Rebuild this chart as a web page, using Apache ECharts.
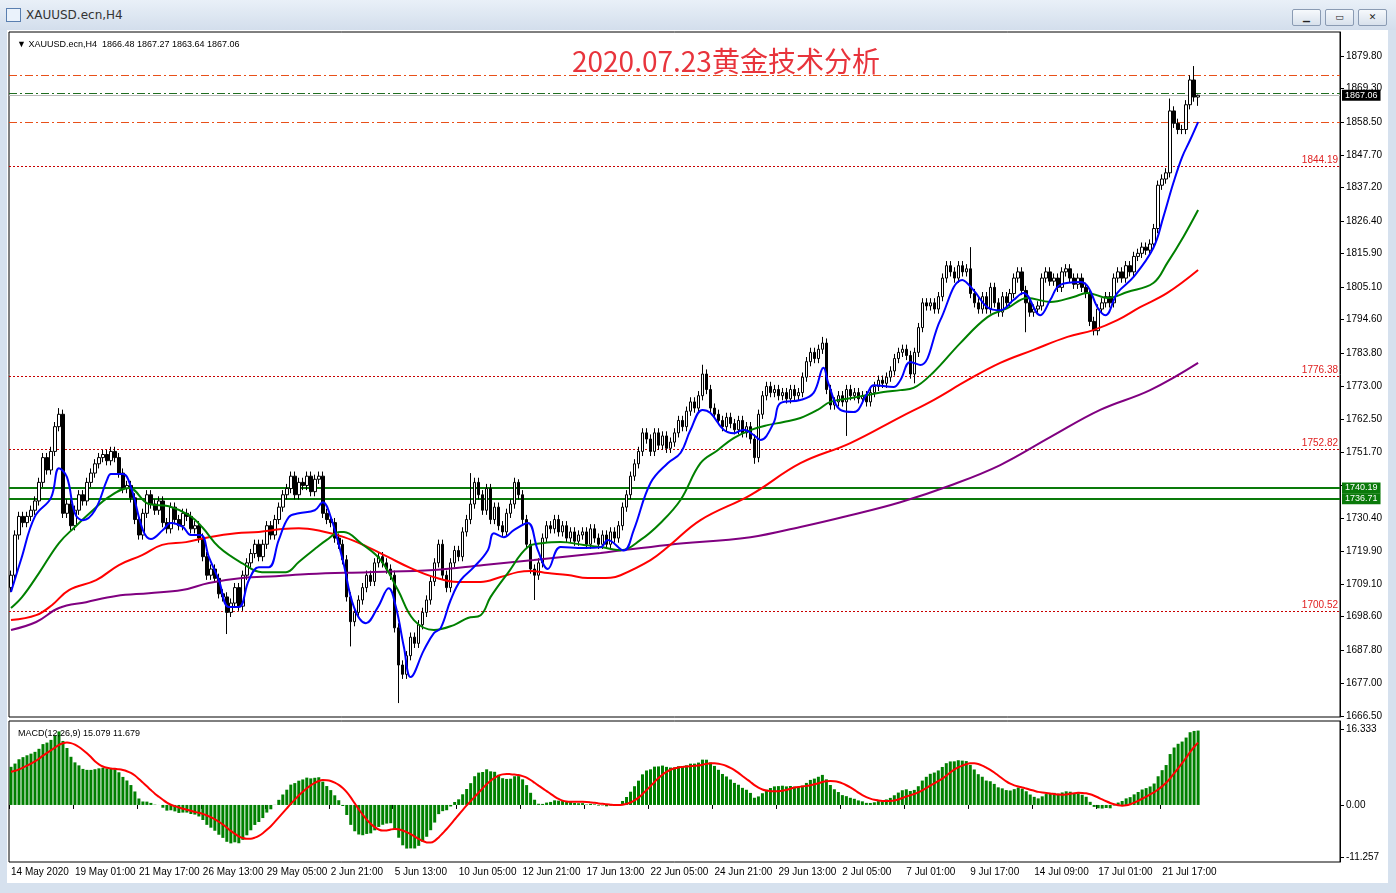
<!DOCTYPE html>
<html><head><meta charset="utf-8">
<script src="https://cdn.jsdelivr.net/npm/echarts@6/dist/echarts.min.js"></script>
<style>
html,body{margin:0;padding:0;width:1396px;height:893px;overflow:hidden;background:#d6e1ee;font-family:"DejaVu Sans",sans-serif}
#bar{position:absolute;left:0;top:0;width:1396px;height:30px;background:linear-gradient(#e9f0f8,#d3deec)}
#bar .t{position:absolute;left:26px;top:8px;font-size:12px;color:#333}
#bar .ic{position:absolute;left:6px;top:8px;width:13px;height:12px;border:1px solid #5a7fb0;background:#eaf2fb}
.btn{position:absolute;top:9px;width:27px;height:15px;border:1px solid #8a9bb3;border-radius:2px;background:linear-gradient(#f6f9fc,#d8e1ec);font-size:9px;line-height:15px;text-align:center;color:#222}
#white{position:absolute;left:7px;top:30px;width:1381px;height:853px;background:#fff}
#chart{position:absolute;left:0;top:0;width:1396px;height:893px}
</style></head><body>
<div id="bar"><div class="ic"></div><div class="t">XAUUSD.ecn,H4</div>
<div class="btn" style="left:1292px">▁</div><div class="btn" style="left:1325px">▭</div><div class="btn" style="left:1358px">✕</div></div>
<div id="white"></div>
<div id="chart"></div>
<script>
// ---- data ----
const closes = [
1712,1725,1731,1729,1731, 1733,1736,1742,1750,1746, 1752,1760,1764,
1732,1735,1728,1733,1738,1736, 1742,1745,1748,1750,1751,1749,1752,1750,
1745,1740,1741,1737, 1730,1725,1732,1738,1735, 1733,1736,1729,1727,1734,
1730,1728,1732,1731,1727,1728, 1724,1718,1712,1714,1711,1706, 1705,1700,1703,1708,1702,
1712,1716,1719,1722,1718, 1722,1728,1725,1730,1734,1738, 1740,1744,1738,1742,1741,1744,1739,1743,1744,
1732, 1730,1729,1724,1722,1717, 1705,1697,1700, 1704,1708,1712,1710,1716,1718, 1716,1714,1712,
1695,1683,1680, 1686,1692,1690,1696,1700, 1704,1710,1716,1722,1712, 1708,1716,1720,1718,1726,
1730,1735,1742, 1738,1733,1740,1730,1734, 1728,1726,1732,1735, 1742,1738,1730, 1722,1714,1712,
1716,1724,1728,1727, 1730,1726,1728,1724,1726,1723,1725,1726,1722,1727,1724,1722,
1725,1722,1726,1724,1728,1734, 1738,1744,1748,1752,1758, 1756,1752,1758,1754,1757,
1753,1755,1758,1762,1760, 1765,1768,1766,1770,1777, 1772,1766,1764,
1762,1760,1763,1761,1759,1762,1758, 1760,1756,1750, 1764,1770,1773,1771,
1772,1770,1771,1769,1772,1770,1771, 1776,1781,1784,1782,1785,1787, 1772,1767,1768,
1770,1768,1772,1770,1771,1769,1770,1768, 1771,1773,1775,1774,1776,1778,1782,1784,
1785,1783,1777, 1784,1792,1800,1799,1800, 1798,1802,1808,1812, 1810,1808,1812,1810,1811,
1803,1800,1798,1802, 1798,1805,1800,1797,1802,1800,1803, 1808,1810,1804, 1800,1797,1798,1799,
1808,1810,1807, 1808,1805,1810,1811,1808,1806,1808,1805, 1803,1794,1791,
1798,1800,1802,1800, 1808,1810,1808,1812,1810, 1815,1816,1818,1817,1819,
1824,1838,1840, 1842, 1862, 1858,1856,1856, 1864,1872,1866.48,1867.06];
const firstOpen = 1708;
const hiSpikes = [[12,1766],[115,1745],[127,1743],[173,1780],[203,1789],[240,1818],[290,1866],[296,1876.5],[297,1867.27]];
const loSpikes = [[54,1693],[85,1689],[97,1670.7],[131,1704],[186,1748],[209,1757],[226,1774],[254,1790.5],[297,1863.64]];
const wick = 1.5;
const blueMA = [[0,1706.6],[2.5,1717],[6,1731],[10,1737],[12,1746.6],[14,1743.7],[16,1732],[18,1729.8],[21,1733],[24,1742.7],[25,1744.7],[28,1744.7],[30,1740.5],[33,1726.6],[35,1723.7],[38,1726.6],[40,1728.9],[43,1727.6],[45,1725],[47.5,1725],[49.5,1717.9],[52,1710.4],[54.5,1701.7],[57,1701.7],[59.5,1710.4],[62,1714.6],[64.5,1714.6],[67,1723.4],[69.5,1730.8],[72,1732],[76,1733],[78,1735.6],[80,1730.8],[83,1716.9],[85.8,1701.7],[88.8,1696.5],[91.8,1701.7],[94.5,1707.8],[96.3,1701.7],[98.3,1688.8],[100,1679.1],[103.3,1687.8],[105.8,1693.3],[107.5,1694.9],[110,1704],[112.5,1710.4],[115.8,1714.6],[119.3,1720.1],[120.8,1725.6],[123.3,1724.3],[125.8,1726.6],[129.3,1728.9],[131.8,1720.1],[134.3,1714],[137.5,1721.1],[143.3,1720.8],[147.5,1721],[149.3,1723.4],[153.3,1720],[155.8,1726.6],[160,1741.8],[164.3,1748.2],[167.5,1751.5],[170,1758.9],[173,1765.4],[175,1764.4],[178.3,1759],[180.8,1757.9],[183.3,1759],[185.8,1757.3],[187.5,1755.7],[190.8,1761.2],[192.5,1767.6],[197.5,1768.6],[200.8,1770.9],[203.3,1779],[204.5,1774],[207.5,1765.4],[210.8,1764.7],[214.3,1770.9],[215.8,1773.4],[220.8,1772.8],[222.5,1775],[225,1780.9],[227.5,1779.9],[232.5,1794.4],[238,1807.4],[240.8,1804.1],[244.3,1798.6],[247.5,1797.6],[250.8,1800.9],[253.3,1803.2],[257.5,1796],[260,1800.9],[262.5,1805.8],[267.5,1806.7],[269.5,1805.1],[271.8,1798.6],[273.8,1796],[276.8,1803.2],[280.8,1808.3],[285.8,1817.7],[288.3,1827.7],[290.8,1838.7],[293,1847.1],[295,1852.6],[297,1858.4]];
const greenMA = [[0,1701.4],[2.8,1705],[7,1712.7],[12,1722.4],[16,1727.6],[20,1732.4],[24.5,1737.3],[29.5,1740.2],[34.5,1735],[39.5,1734.3],[44.5,1731.4],[47.8,1727.6],[52,1721.1],[57.8,1715.9],[62.8,1713],[68.8,1713],[72,1716.3],[76,1720.5],[79,1723.4],[82.3,1726],[83.3,1726],[87.5,1722.4],[92.5,1716.9],[96.8,1707.2],[100.8,1697.5],[105.8,1694.3],[110.8,1695.9],[114.3,1698.2],[117.5,1699.1],[120,1705],[124.3,1712.7],[129.3,1721.1],[133.3,1722.4],[137.5,1722.7],[143.3,1721.8],[147.5,1721.1],[152.5,1720.1],[157.5,1723.4],[162.5,1728.9],[167.5,1736.3],[172.5,1748.2],[176.8,1752.4],[180.8,1756.3],[185,1758.9],[189.3,1760.5],[193.3,1761.5],[197.5,1762.8],[201.8,1765.4],[205,1768],[210,1769.2],[214.3,1770.2],[218.3,1771.2],[222.5,1771.8],[225.8,1772.5],[230.8,1777.6],[237.5,1787],[244.3,1795.4],[249.3,1798.3],[254.3,1801.6],[260,1800.3],[265.8,1801.9],[269.3,1803.2],[274.3,1801.6],[279.3,1803.5],[285.8,1806.4],[289.3,1812.9],[293.3,1821.3],[297,1830]];
const redMA = [[0,1697.5],[6.3,1699.1],[10.3,1702.4],[14.5,1707.2],[21.3,1710.4],[27,1715.3],[32.8,1718.5],[37.8,1721.8],[43.8,1722.7],[49.5,1724.3],[56.3,1725.6],[62,1726],[67.8,1726.9],[72,1727.2],[77.5,1726.3],[83.3,1724.3],[89.3,1721.1],[94.3,1717.9],[100,1714.3],[105.8,1711.4],[111.8,1709.8],[117.5,1709.8],[122.5,1711.4],[126.8,1713],[130,1713.4],[134.3,1712.7],[139.3,1712.1],[144.3,1711.1],[150,1711.2],[152.5,1712],[160,1716.9],[164.3,1721.1],[172.5,1729.8],[185,1737.9],[197.5,1748.2],[210,1754.7],[222.5,1763.1],[230.8,1768.6],[239.3,1775],[247.5,1780.6],[255.8,1784.8],[264.3,1789],[270.8,1791.2],[276.8,1794.4],[282.5,1798.6],[289.3,1803.2],[297,1810.6]];
const purpleMA = [[0,1694.3],[6.3,1696.9],[12,1701.4],[18.8,1703.3],[26.3,1705.3],[34.5,1706.2],[42.8,1707.2],[49.5,1709.5],[57.8,1711.1],[66.3,1711.7],[74.5,1712.4],[89.3,1713],[105.8,1713.7],[118.3,1715.3],[130.8,1716.9],[147.5,1719.2],[164.3,1721.8],[185,1724.3],[197.5,1727.6],[210,1731.4],[222.5,1735.6],[235,1741],[247.5,1747.6],[260,1756.6],[272.5,1765.4],[285,1771.8],[297,1780.6]];
const timeLabels = ['14 May 2020','19 May 01:00','21 May 17:00','26 May 13:00','29 May 05:00','2 Jun 21:00','5 Jun 13:00','10 Jun 05:00','12 Jun 21:00','17 Jun 13:00','22 Jun 05:00','24 Jun 21:00','29 Jun 13:00','2 Jul 05:00','7 Jul 01:00','9 Jul 17:00','14 Jul 09:00','17 Jul 01:00','21 Jul 17:00'];
const priceTicks = [1666.5,1677,1687.8,1698.6,1709.1,1719.9,1730.4,1741.2,1751.7,1762.5,1773,1783.8,1794.6,1805.1,1815.9,1826.4,1837.2,1847.7,1858.5,1869.3,1879.8];
const hiddenPriceLabels = [1741.2];
const macdTicks = [16.333,0,-11.257];
const redLevels = [1844.19,1776.38,1752.82,1700.52];
const greenLevels = [1740.19,1736.71];
const orangeLevels = [1873.6,1858.4];
const greenDashLevel = 1867.8;
const lastPrice = 1867.06;
const macdSeed = {ema12:1708, ema26:1699.5, signal:7};
// ---- build ----
const N = 333, perLabel = 16;
const cats = Array.from({length:N},(_,i)=>String(i));
const hiMap = new Map(hiSpikes), loMap = new Map(loSpikes);
const candles = closes.map((c,i)=>{
  const o = i===0?firstOpen:closes[i-1];
  const h = hiMap.has(i)?hiMap.get(i):Math.max(o,c)+wick;
  const l = loMap.has(i)?loMap.get(i):Math.min(o,c)-wick;
  return [o,c,l,h];
});
let e12=macdSeed.ema12,e26=macdSeed.ema26; const macd=[],sig=[];
const hist=[]; for(let k=0;k<8;k++) hist.push(macdSeed.signal);
closes.forEach(c=>{e12+= (c-e12)*2/13; e26+=(c-e26)*2/27; const m=e12-e26; macd.push(+m.toFixed(3)); hist.push(m);
  const last=hist.slice(-9); sig.push(+(last.reduce((a,b)=>a+b,0)/9).toFixed(3));});
const ff = '"Liberation Sans", Arial, sans-serif';
function ml(v,color,type,width,label){return {yAxis:v,lineStyle:{color,type,width},label:label||{show:false}};}
const dashDot=[8,3,2,3];
const chart = echarts.init(document.getElementById('chart'),null,{renderer:'canvas'});
const lineS=(data,color)=>({type:'line',xAxisIndex:2,yAxisIndex:0,data,smooth:0.4,showSymbol:false,lineStyle:{color,width:2},silent:true,z:5});
chart.setOption({
  animation:false,
  backgroundColor:'transparent',
  title:[
    {text:'2020.07.23黄金技术分析',left:567,top:42,textStyle:{color:'#e8343c',fontSize:28,fontWeight:'normal',fontFamily:'"Noto Sans CJK SC", sans-serif'}},
    {text:'▼ XAUUSD.ecn,H4  1866.48 1867.27 1863.64 1867.06',left:12,top:35,textStyle:{color:'#000',fontSize:9,fontWeight:'normal',fontFamily:ff}},
    {text:'MACD(12,26,9) 15.079 11.679',left:13,top:724,textStyle:{color:'#000',fontSize:9,fontWeight:'normal',fontFamily:ff}}
  ],
  grid:[
    {left:9,top:32,width:1331,height:685,show:true,borderColor:'#000',borderWidth:1,backgroundColor:'transparent'},
    {left:9,top:721,width:1331,height:141,show:true,borderColor:'#000',borderWidth:1,backgroundColor:'transparent'}
  ],
  xAxis:[
    {type:'category',gridIndex:0,data:cats,boundaryGap:true,axisLine:{show:false},axisTick:{show:false},axisLabel:{show:false},splitLine:{show:false}},
    {type:'category',gridIndex:1,data:cats,boundaryGap:true,axisLine:{show:false},
      axisTick:{show:true,interval:(i)=>i%perLabel===0&&i/perLabel<timeLabels.length,length:4,lineStyle:{color:'#000'}},
      axisLabel:{interval:(i)=>i%perLabel===0&&i/perLabel<timeLabels.length,formatter:(v,i)=>timeLabels[i/perLabel]||'',align:'left',color:'#000',fontSize:10,fontFamily:ff,margin:5},splitLine:{show:false}},
    {type:'value',gridIndex:0,min:-0.5,max:N-0.5,show:false}
  ],
  yAxis:[
    {type:'value',gridIndex:0,position:'right',min:1666.2,max:1887.5,
      axisLine:{show:true,onZero:false,lineStyle:{color:'#000'}},axisTick:{show:true,customValues:priceTicks,length:4,inside:false,lineStyle:{color:'#000'}},
      axisLabel:{customValues:priceTicks,formatter:v=>hiddenPriceLabels.includes(v)?'':v.toFixed(2),color:'#000',fontSize:10,fontFamily:ff,margin:6},splitLine:{show:false}},
    {type:'value',gridIndex:1,position:'right',min:-12.25,max:18.03,
      axisLine:{show:true,onZero:false,lineStyle:{color:'#000'}},axisTick:{show:true,customValues:macdTicks,length:4,lineStyle:{color:'#000'}},
      axisLabel:{customValues:macdTicks,formatter:v=>v===0?'0.00':String(v),color:'#000',fontSize:10,fontFamily:ff,margin:6},splitLine:{show:false}}
  ],
  series:[
    {type:'candlestick',xAxisIndex:0,yAxisIndex:0,data:candles,barWidth:3,z:3,
      itemStyle:{color:'#fff',color0:'#000',borderColor:'#000',borderColor0:'#000',borderWidth:1},
      markLine:{symbol:['none','none'],silent:true,animation:false,precision:2,z:2,data:[
        ...redLevels.map(v=>ml(v,'#c80000',[2,2],1,{show:true,position:'insideEndTop',formatter:v.toFixed(2),color:'#e02020',fontSize:10,fontFamily:ff,distance:[2,1]})),
        ...greenLevels.map(v=>ml(v,'#0a7a0a','solid',2,{show:true,position:'end',formatter:v.toFixed(2),color:'#fff',backgroundColor:'#0a7a0a',fontSize:9,fontFamily:ff,padding:[1,3],distance:2})),
        ...orangeLevels.map(v=>ml(v,'#e8501a',dashDot,1)),
        ml(greenDashLevel,'#1f6e1f',dashDot,1),
        ml(lastPrice,'#b8b8b8','solid',1,{show:true,position:'end',formatter:lastPrice.toFixed(2),color:'#fff',backgroundColor:'#000',fontSize:9,fontFamily:ff,padding:[1,3],distance:2})
      ]}},
    lineS(purpleMA,'#800080'),
    lineS(redMA,'#ff0000'),
    lineS(greenMA,'#008000'),
    lineS(blueMA,'#0000ff'),
    {type:'bar',xAxisIndex:1,yAxisIndex:1,data:macd,barWidth:3,itemStyle:{color:'#008000'},silent:true},
    {type:'line',xAxisIndex:1,yAxisIndex:1,data:sig,smooth:0.3,showSymbol:false,lineStyle:{color:'#ff0000',width:2},silent:true}
  ]
});
</script></body></html>
